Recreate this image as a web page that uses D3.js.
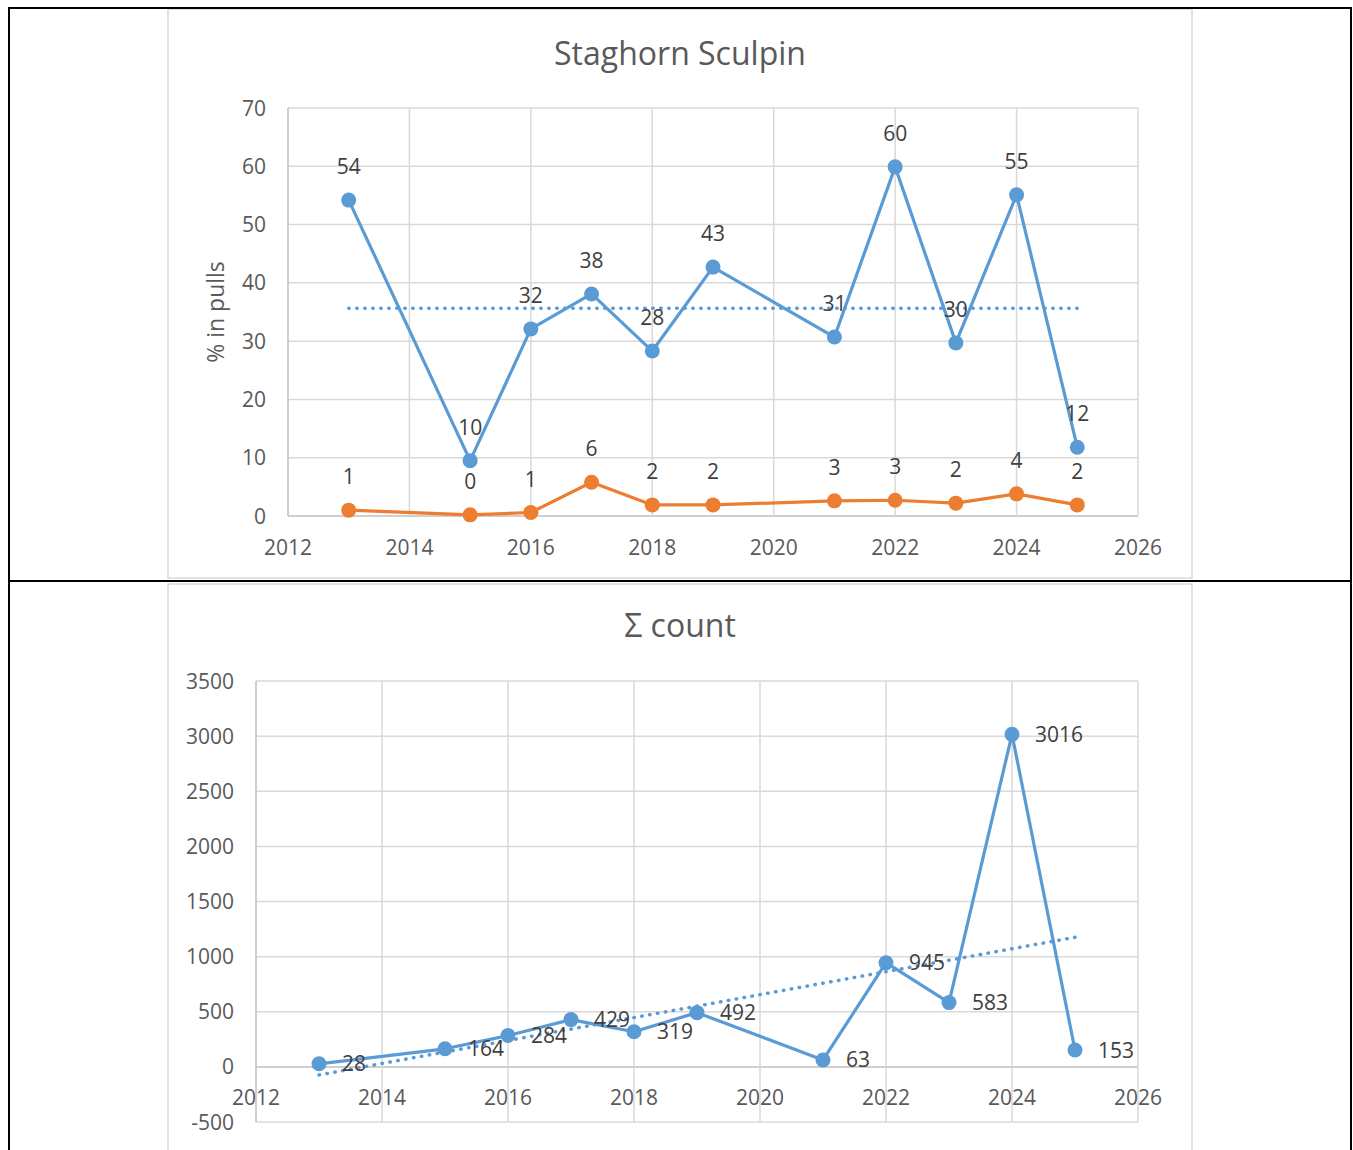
<!DOCTYPE html>
<html>
<head>
<meta charset="utf-8">
<script src="https://cdn.jsdelivr.net/npm/d3@7"></script>
<style>
  html, body { margin: 0; padding: 0; background: #fff; }
  svg text { font-family: "Open Sans", sans-serif; }
</style>
</head>
<body>
<svg id="page" width="1353" height="1150"></svg>
<script>
// --- Data
const years = [2013, 2015, 2016, 2017, 2018, 2019, 2021, 2022, 2023, 2024, 2025];
const pctPulls = [54.2, 9.5, 32.1, 38.1, 28.3, 42.7, 30.7, 59.9, 29.7, 55.1, 11.8];
const pctOther = [1.0, 0.2, 0.6, 5.8, 1.9, 1.9, 2.6, 2.7, 2.2, 3.8, 1.9];
const counts = [28, 164, 284, 429, 319, 492, 63, 945, 583, 3016, 153];
const xTicks = [2012, 2014, 2016, 2018, 2020, 2022, 2024, 2026];
const pctTicks = [0, 10, 20, 30, 40, 50, 60, 70];
const countTicks = [-500, 0, 500, 1000, 1500, 2000, 2500, 3000, 3500];

const BLUE = "#5B9BD5";
const ORANGE = "#ED7D31";
const GRID = "#d9d9d9";
const AXIS = "#bfbfbf";
const TICK_TXT = "#595959";
const LABEL_TXT = "#404040";

const svg = d3.select("#page");

// --- least squares trend line
function trend(xs, ys) {
  const mx = d3.mean(xs), my = d3.mean(ys);
  const sxy = d3.sum(xs, (x, i) => (x - mx) * (ys[i] - my));
  const sxx = d3.sum(xs, (x) => (x - mx) ** 2);
  const b = sxy / sxx;
  return (x) => my + b * (x - mx);
}

// --- table frame and chart boxes
svg.append("rect").attr("x", 168).attr("y", 9).attr("width", 1024).attr("height", 569)
  .attr("fill", "#fff").attr("stroke", GRID).attr("stroke-width", 1.5);
svg.append("rect").attr("x", 168).attr("y", 584).attr("width", 1024).attr("height", 600)
  .attr("fill", "#fff").attr("stroke", GRID).attr("stroke-width", 1.5);

const frame = svg.append("g").attr("stroke", "#000").attr("stroke-width", 2);
frame.append("line").attr("x1", 9).attr("x2", 1352).attr("y1", 8).attr("y2", 8);
frame.append("line").attr("x1", 9).attr("x2", 9).attr("y1", 7).attr("y2", 1150);
frame.append("line").attr("x1", 1351).attr("x2", 1351).attr("y1", 7).attr("y2", 1150);
frame.append("line").attr("x1", 9).attr("x2", 1352).attr("y1", 581).attr("y2", 581);

// --- generic chart drawer
function drawChart(opt) {
  const g = svg.append("g");
  const x = d3.scaleLinear().domain([2012, 2026]).range([opt.left, opt.right]);
  const y = d3.scaleLinear().domain(opt.yDomain).range([opt.bottom, opt.top]);

  // title
  g.append("text").attr("x", 680).attr("y", opt.titleY)
    .attr("text-anchor", "middle").attr("font-size", 32).attr("fill", TICK_TXT)
    .text(opt.title);

  // gridlines
  g.append("g").selectAll("line").data(opt.yTicks).join("line")
    .attr("x1", opt.left).attr("x2", opt.right)
    .attr("y1", (d) => y(d)).attr("y2", (d) => y(d))
    .attr("stroke", (d) => (d === 0 ? AXIS : GRID)).attr("stroke-width", 1.5);
  g.append("g").selectAll("line").data(xTicks).join("line")
    .attr("x1", (d) => x(d)).attr("x2", (d) => x(d))
    .attr("y1", opt.top).attr("y2", opt.bottom)
    .attr("stroke", (d) => (d === 2012 ? AXIS : GRID)).attr("stroke-width", 1.5);

  // tick labels
  g.append("g").selectAll("text").data(opt.yTicks).join("text")
    .attr("x", opt.left - 22).attr("y", (d) => y(d) + 7.5)
    .attr("text-anchor", "end").attr("font-size", 21).attr("fill", TICK_TXT)
    .text((d) => d);
  g.append("g").selectAll("text").data(xTicks).join("text")
    .attr("x", (d) => x(d)).attr("y", y(0) + 38.5)
    .attr("text-anchor", "middle").attr("font-size", 21).attr("fill", TICK_TXT)
    .text((d) => d);

  if (opt.yLabel) {
    g.append("text")
      .attr("transform", `translate(224,${(opt.top + opt.bottom) / 2}) rotate(-90)`)
      .attr("text-anchor", "middle").attr("font-size", 23).attr("fill", TICK_TXT)
      .text(opt.yLabel);
  }

  // trend line of the first series
  const first = opt.series[0];
  const f = trend(years, first.values);
  g.append("line")
    .attr("x1", x(years[0])).attr("x2", x(years[years.length - 1]))
    .attr("y1", y(f(years[0]))).attr("y2", y(f(years[years.length - 1])))
    .attr("stroke", BLUE).attr("stroke-width", 3.5)
    .attr("stroke-linecap", "round").attr("stroke-dasharray", "0.5 7.5");

  const line = d3.line().x((d) => x(d[0])).y((d) => y(d[1]));

  opt.series.forEach((s) => {
    const pts = years.map((yr, i) => [yr, s.values[i]]);
    g.append("path").datum(pts).attr("d", line)
      .attr("fill", "none").attr("stroke", s.color).attr("stroke-width", 3.2)
      .attr("stroke-linejoin", "round");
    g.append("g").selectAll("circle").data(pts).join("circle")
      .attr("cx", (d) => x(d[0])).attr("cy", (d) => y(d[1]))
      .attr("r", opt.r).attr("fill", s.color);
  });

  // data labels drawn last
  opt.series.forEach((s) => {
    const pts = years.map((yr, i) => [yr, s.values[i]]);
    g.append("g").selectAll("text").data(pts).join("text")
      .attr("x", (d) => x(d[0]) + (opt.labelRight ? 23 : 0))
      .attr("y", (d) => y(d[1]) + (opt.labelRight ? 7.5 : -26))
      .attr("text-anchor", opt.labelRight ? "start" : "middle")
      .attr("font-size", 21).attr("fill", LABEL_TXT)
      .text((d) => Math.round(d[1]));
  });
}

drawChart({
  title: "Staghorn Sculpin", titleY: 65,
  left: 288, right: 1138, top: 108, bottom: 516,
  yDomain: [0, 70], yTicks: pctTicks, yLabel: "% in pulls", r: 7.5,
  series: [{ values: pctPulls, color: BLUE }, { values: pctOther, color: ORANGE }],
  labelRight: false,
});

drawChart({
  title: "Σ count", titleY: 637,
  left: 256, right: 1138, top: 681, bottom: 1122,
  yDomain: [-500, 3500], yTicks: countTicks, r: 7.5,
  series: [{ values: counts, color: BLUE }],
  labelRight: true,
});
</script>
</body>
</html>
